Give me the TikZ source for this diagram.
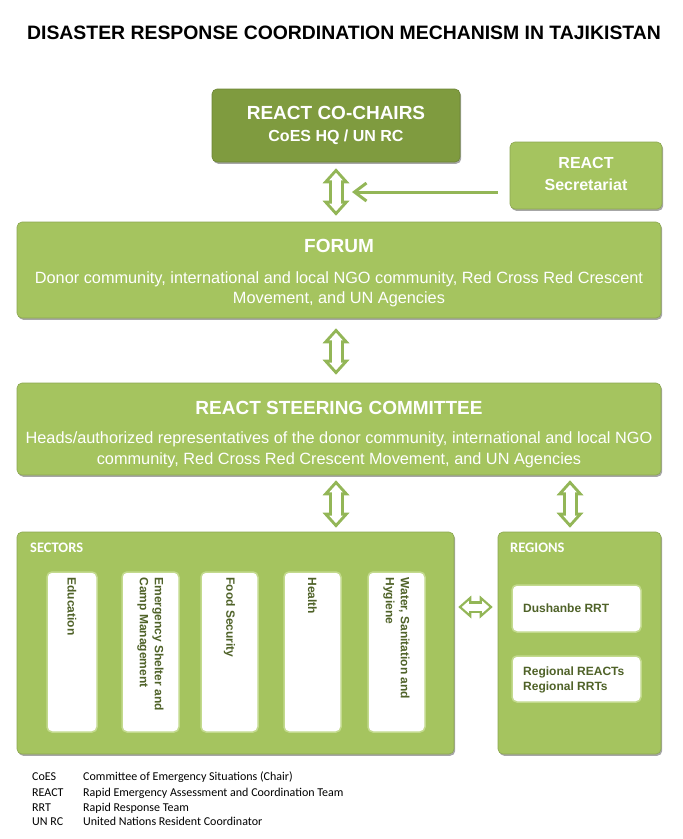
\documentclass[tikz,border=0pt]{standalone}
\usepackage{fontspec}
\setmainfont{Liberation Sans}
\newfontfamily\calibri{Carlito}
\usetikzlibrary{arrows.meta,shadows}
\definecolor{leaf}{HTML}{A5C45F}
\definecolor{moss}{HTML}{7F9B3F}
\definecolor{stem}{HTML}{93B657}
\definecolor{bark}{HTML}{4F6228}
\definecolor{glow}{HTML}{C3DA8E}

\begin{document}
\begin{tikzpicture}[x=1pt, y=-1pt,
					greenbox/.style={rectangle, rounded corners=5pt, fill=leaf, draw=leaf!85!black, line width=0.6pt,
						drop shadow={shadow xshift=1.2pt, shadow yshift=-1.8pt, opacity=0.35, fill=black}},
					chairbox/.style={greenbox, fill=moss, draw=moss!85!black},
					slot/.style={rectangle, rounded corners=5pt, fill=white, draw=glow, line width=1.5pt},
					headline/.style={text=white, font=\bfseries\fontsize{19}{22}\selectfont, inner sep=0pt},
					subline/.style={text=white, font=\bfseries\fontsize{16}{19}\selectfont, inner sep=0pt},
					bodytext/.style={text=white, font=\fontsize{16.3}{20.5}\selectfont, align=center, inner sep=0pt},
					tag/.style={anchor=west, text=white, font=\calibri\bfseries\fontsize{14.5}{17}\selectfont, inner sep=0pt},
					sectorname/.style={rotate=-90, anchor=west, text=bark, align=left,
						font=\bfseries\fontsize{12}{15}\selectfont, inner sep=0pt},
					regionname/.style={anchor=west, text=bark, align=left,
						font=\bfseries\fontsize{12}{15}\selectfont, inner sep=0pt},
					legend/.style={anchor=base west, font=\calibri\fontsize{12}{14}\selectfont, inner sep=0pt},
					fatarrow/.style 2 args={draw=stem, line width=15pt, shorten <=#1, shorten >=#2,
						{Triangle[length=15pt, width=27pt, line width=0pt]}-{Triangle[length=15pt, width=27pt, line width=0pt]},
						postaction={draw=white, line width=9pt, shorten <=#1+4.5pt, shorten >=#2+4.5pt,
							{Triangle[length=7.5pt, width=13.5pt, line width=0pt]}-{Triangle[length=7.5pt, width=13.5pt, line width=0pt]}}},
					sidearrow/.style 2 args={draw=stem, line width=12pt, shorten <=#1, shorten >=#2,
						{Triangle[length=13pt, width=23pt, line width=0pt]}-{Triangle[length=13pt, width=23pt, line width=0pt]},
						postaction={draw=white, line width=7pt, shorten <=#1+3.5pt, shorten >=#2+3.5pt,
							{Triangle[length=7pt, width=12.4pt, line width=0pt]}-{Triangle[length=7pt, width=12.4pt, line width=0pt]}}},
					feed/.style={draw=stem, line width=3pt, -{Straight Barb[length=12pt, width=18pt]}}
					]
					\useasboundingbox (0,0) rectangle (683,839);
					\node[font=\bfseries\fontsize{19.4}{22}\selectfont, inner sep=0pt] (title) at (344,33)
						{DISASTER RESPONSE COORDINATION MECHANISM IN TAJIKISTAN};
					% top row
					\node[chairbox, minimum width=248, minimum height=73] (cochairs) at (336,125.5) {};
					\node[headline] (cochairshead) at (336,113) {REACT CO-CHAIRS};
					\node[subline] (cochairssub) at (336,137) {CoES HQ / UN RC};
					\node[greenbox, minimum width=152, minimum height=67] (secretariat) at (586,175.5) {};
					\node[subline] (secretariathead) at (586,163) {REACT};
					\node[subline] (secretariatsub) at (586,184.5) {Secretariat};
					% forum and steering committee
					\node[greenbox, minimum width=644, minimum height=96] (forum) at (339,270) {};
					\node[headline] (forumhead) at (339,246) {FORUM};
					\node[bodytext] (forumbody) at (339,289.5) {Donor community, international and local NGO community, Red Cross Red Crescent\\
						Movement, and UN Agencies};
					\node[greenbox, minimum width=644, minimum height=92] (steering) at (339,429) {};
					\node[headline] (steeringhead) at (339,408) {REACT STEERING COMMITTEE};
					\node[bodytext] (steeringbody) at (339,450) {Heads/authorized representatives of the donor community, international and local NGO\\
						community, Red Cross Red Crescent Movement, and UN Agencies};
					% sectors
					\node[greenbox, minimum width=437, minimum height=222] (sectors) at (235.5,643) {};
					\node[tag] (sectorstag) at (30,548) {SECTORS};
					\node[slot, minimum width=50, minimum height=160] (education) at (72,652) {};
					\node[slot, minimum width=57, minimum height=160] (shelter) at (150.5,652) {};
					\node[slot, minimum width=57, minimum height=160] (food) at (229.5,652) {};
					\node[slot, minimum width=57, minimum height=160] (health) at (312.5,652) {};
					\node[slot, minimum width=57, minimum height=160] (wash) at (396.5,652) {};
					\node[sectorname] (educationtext) at ([yshift=-6pt]education.north) {Education};
					\node[sectorname] (sheltertext) at ([yshift=-6pt]shelter.north) {Emergency Shelter and\\Camp Management};
					\node[sectorname] (foodtext) at ([yshift=-6pt]food.north) {Food Security};
					\node[sectorname] (healthtext) at ([yshift=-6pt]health.north) {Health};
					\node[sectorname] (washtext) at ([yshift=-6pt]wash.north) {Water, Sanitation and\\Hygiene};
					% regions
					\node[greenbox, minimum width=163, minimum height=222] (regions) at (579.5,643) {};
					\node[tag] (regionstag) at (510,548) {REGIONS};
					\node[slot, minimum width=129, minimum height=47] (dushanbe) at (576.5,608.5) {};
					\node[slot, minimum width=129, minimum height=46] (regional) at (576.5,679) {};
					\node[regionname] (dushanbetext) at (523,608.5) {Dushanbe RRT};
					\node[regionname] (regionaltext) at (523,679.5) {Regional REACTs\\Regional RRTs};
					% connectors
					\coordinate (rcol) at (570,500);
					\coordinate (hrow) at (475,607);
					\draw[fatarrow={6pt}{6pt}] (cochairs.south) -- coordinate[pos=0.5] (hub) (forum.north -| cochairs.south);
					\draw[feed, shorten <=12pt, shorten >=16pt] (secretariat.west |- hub) -- (hub);
					\draw[fatarrow={10pt}{8pt}] (forum.south -| cochairs.south) -- (steering.north -| cochairs.south);
					\draw[fatarrow={5pt}{4pt}] (steering.south -| cochairs.south) -- (sectors.north -| cochairs.south);
					\draw[fatarrow={5pt}{4pt}] (steering.south -| rcol) -- (regions.north -| rcol);
					\draw[sidearrow={4pt}{5pt}] (sectors.east |- hrow) -- (regions.west |- hrow);
					% abbreviations
					\node[legend] (coes) at (32,780) {CoES};
					\node[legend] (coesdef) at (83,780) {Committee of Emergency Situations (Chair)};
					\node[legend] (react) at (32,796) {REACT};
					\node[legend] (reactdef) at (83,796) {Rapid Emergency Assessment and Coordination Team};
					\node[legend] (rrt) at (32,811) {RRT};
					\node[legend] (rrtdef) at (83,811) {Rapid Response Team};
					\node[legend] (unrc) at (32,825) {UN RC};
					\node[legend] (unrcdef) at (83,825) {United Nations Resident Coordinator};
				\end{tikzpicture}
\end{document}
